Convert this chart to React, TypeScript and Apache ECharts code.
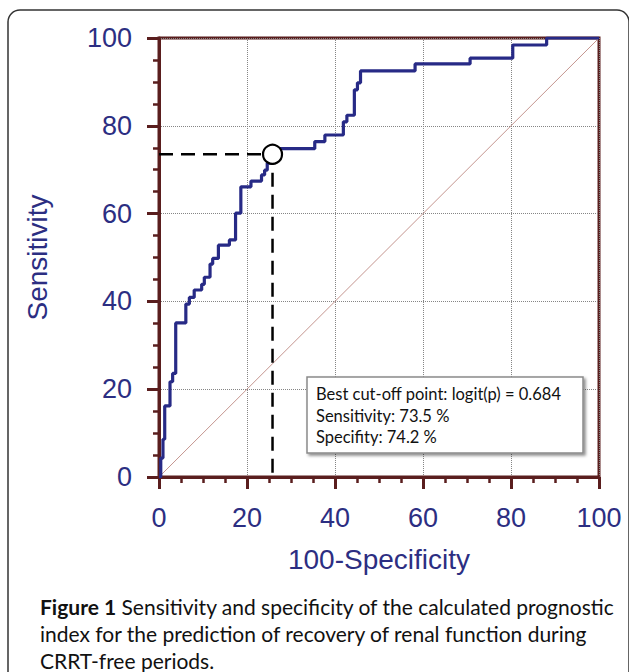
import React, { useEffect, useRef } from "react";
import * as echarts from "echarts";

// ROC step curve: 100-Specificity (x) and Sensitivity (y) at each step corner
const rocFpr = [0, 0.4, 0.9, 1.3, 2.5, 3.1, 3.8, 6.1, 6.9, 8.0, 9.7, 10.3, 11.6, 12.2, 13.5, 16.0, 17.4, 18.6, 20.9, 23.3, 24.0, 24.6, 25.8, 26.6, 35.4, 37.7, 41.9, 42.7, 44.4, 45.1, 45.8, 58.2, 70.7, 80.4, 88.1, 100];
const rocTpr = [0, 4.3, 8.6, 16.2, 21.7, 23.6, 35.1, 39.4, 40.9, 42.6, 43.9, 45.5, 48.5, 49.8, 52.8, 54.0, 60.1, 66.1, 67.4, 68.8, 69.9, 71.5, 73.5, 74.8, 76.4, 77.9, 80.9, 82.4, 88.2, 89.8, 92.5, 94.1, 95.4, 98.4, 100, 100];

const cutoffLogit = 0.684;
const cutSensitivity = 73.5;
const cutSpecificity = 74.2;

const diagonalX = [0, 100];
const diagonalY = [0, 100];

const xAxisName = "100-Specificity";
const yAxisName = "Sensitivity";
const captionLines = [
  ["Figure 1", " Sensitivity and specificity of the calculated prognostic"],
  ["", "index for the prediction of recovery of renal function during"],
  ["", "CRRT-free periods."],
];

const AXIS = "#5a1e1e";
const NAVY = "#2c2e82";
const LABEL_FONT = "'Liberation Sans', Arial, sans-serif";
const TEXT_FONT = "Lato, 'Open Sans', sans-serif";

export default function App() {
  const ref = useRef<HTMLDivElement>(null);
  useEffect(() => {
    if (!ref.current) return;
    const chart = echarts.init(ref.current, null, { renderer: "svg" });
    const cutX = +(100 - cutSpecificity).toFixed(1);
    const roc = rocFpr.map((x, i) => [x, rocTpr[i]]);
    const diag = diagonalX.map((x, i) => [x, diagonalY[i]]);
    const dashed = [
      [0, cutSensitivity],
      [cutX, cutSensitivity],
      [cutX, 0],
    ];
    const axisCommon = {
      type: "value",
      min: 0,
      max: 100,
      interval: 20,
      axisLine: { show: true, onZero: false, lineStyle: { color: AXIS, width: 3 } },
      axisTick: { show: true, length: 12, lineStyle: { color: AXIS, width: 3 } },
      minorTick: { show: true, splitNumber: 4, length: 6, lineStyle: { color: AXIS, width: 2.5 } },
      splitLine: { show: true, lineStyle: { type: "dotted", color: "#858585", width: 1 } },
      minorSplitLine: { show: false },
      nameLocation: "middle",
      nameTextStyle: { color: NAVY, fontSize: 28, fontFamily: LABEL_FONT },
    };
    const boxLines = [
      "Best cut-off point: logit(p) = " + cutoffLogit.toFixed(3),
      "Sensitivity: " + cutSensitivity.toFixed(1) + " %",
      "Specifity: " + cutSpecificity.toFixed(1) + " %",
    ];
    const boxTexts = boxLines.map((t, i) => ({
      type: "text",
      x: 316,
      y: 394 + i * 21.5,
      z: 101,
      style: {
        text: t,
        fontFamily: TEXT_FONT,
        fontSize: 16.5,
        fill: "#111",
        verticalAlign: "middle",
      },
    }));
    const captionGraphics = captionLines.map((ln, i) => ({
      type: "text",
      x: 40,
      y: 606 + i * 27,
      z: 100,
      style: {
        text: (ln[0] ? "{b|" + ln[0] + "}" : "") + "{r|" + ln[1] + "}",
        verticalAlign: "middle",
        rich: {
          b: { fontFamily: TEXT_FONT, fontSize: 21, fontWeight: "bold", fill: "#111" },
          r: { fontFamily: TEXT_FONT, fontSize: 21, fill: "#111" },
        },
      },
    }));
    chart.setOption({
      animation: false,
      grid: { left: 159, right: 30, top: 38, bottom: 195, show: true, borderColor: AXIS, borderWidth: 3 },
      xAxis: {
        ...axisCommon,
        position: "bottom",
        name: xAxisName,
        nameGap: 68,
        axisLabel: { color: NAVY, fontSize: 27, fontFamily: LABEL_FONT, margin: 27 },
      },
      yAxis: {
        ...axisCommon,
        position: "left",
        name: yAxisName,
        nameGap: 108,
        axisLabel: { color: NAVY, fontSize: 27, fontFamily: LABEL_FONT, margin: 27 },
      },
      series: [
        {
          type: "line",
          data: diag,
          symbol: "none",
          lineStyle: { color: "#c4958f", width: 1 },
          z: 1,
          silent: true,
        },
        {
          type: "line",
          data: roc,
          step: "end",
          symbol: "none",
          lineStyle: { color: "#272a86", width: 3.2 },
          z: 2,
        },
        {
          type: "line",
          data: dashed,
          symbol: "none",
          lineStyle: { color: "#000", width: 2.5, type: [14, 8] },
          z: 3,
        },
        {
          type: "scatter",
          data: [[cutX, cutSensitivity]],
          symbol: "circle",
          symbolSize: 19,
          itemStyle: { color: "#fff", borderColor: "#000", borderWidth: 2.2, opacity: 1 },
          z: 4,
        },
      ],
      graphic: [
        {
          type: "rect",
          x: 8,
          y: 10,
          shape: { width: 621, height: 700, r: 12 },
          style: { fill: "none", stroke: "#333", lineWidth: 1.5 },
          z: 0,
          silent: true,
        },
        {
          type: "rect",
          x: 307,
          y: 377,
          z: 100,
          shape: { x: 0, y: 0, width: 276, height: 76 },
          style: {
            fill: "#fff",
            stroke: "#8a8a8a",
            lineWidth: 1.5,
            shadowBlur: 3,
            shadowOffsetX: 2,
            shadowOffsetY: 2,
            shadowColor: "rgba(0,0,0,0.45)",
          },
        },
        ...boxTexts,
        ...captionGraphics,
      ],
    });
    return () => chart.dispose();
  }, []);
  return (
    <div
      ref={ref}
      style={{ position: "fixed", left: 0, top: 0, width: 629, height: 672, background: "#fff" }}
    />
  );
}
